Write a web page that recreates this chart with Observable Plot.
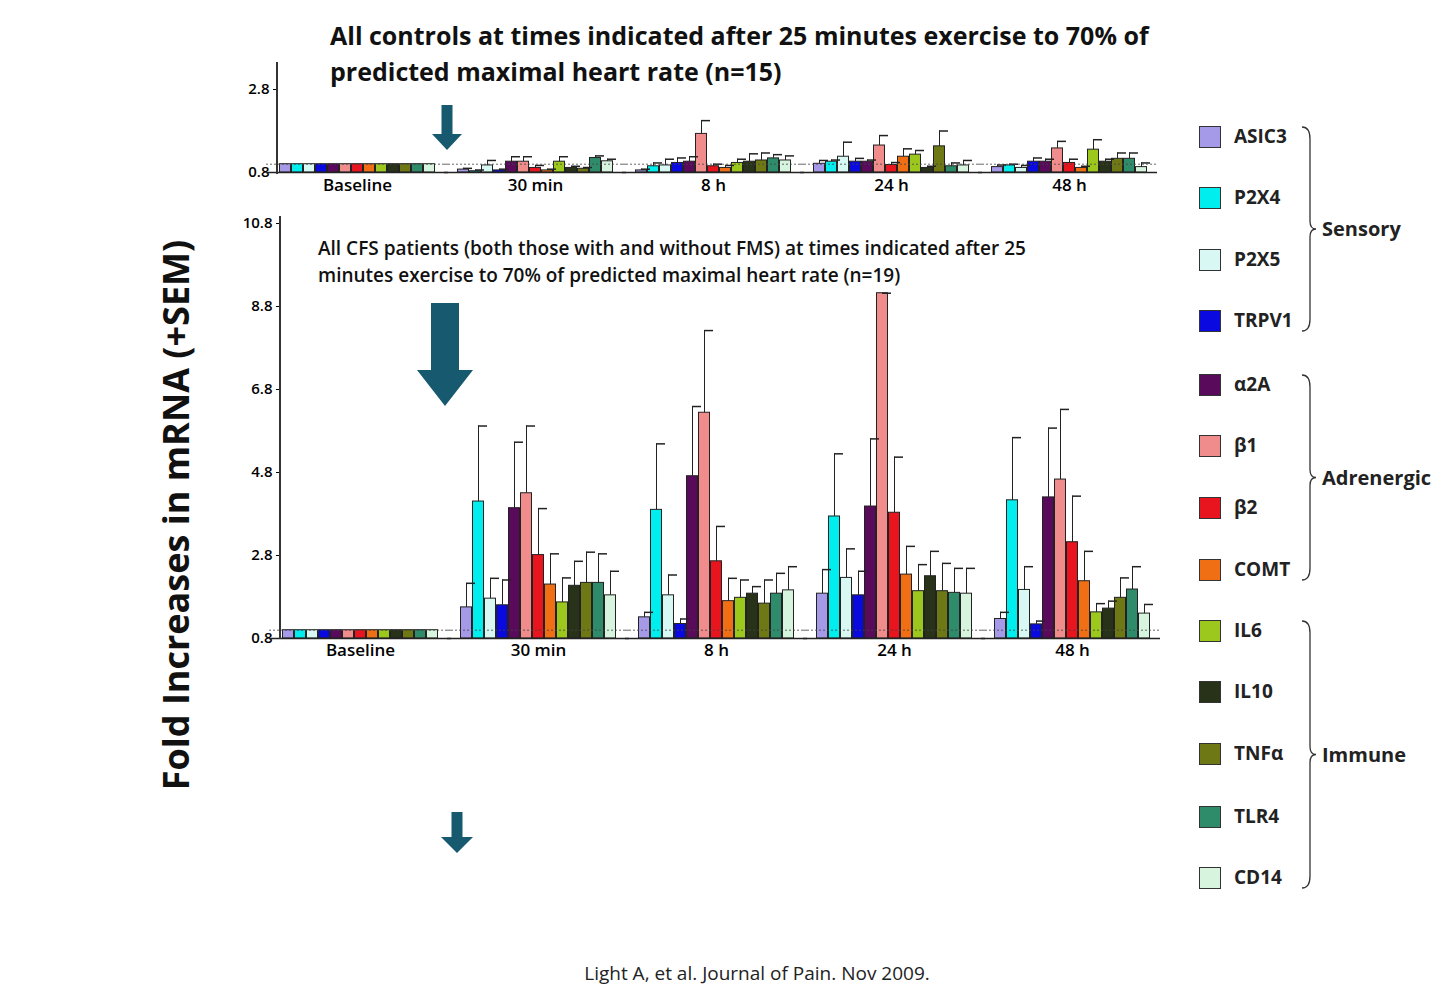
<!DOCTYPE html>
<html><head><meta charset="utf-8">
<script src="https://cdn.jsdelivr.net/npm/d3@7"></script>
<script src="https://cdn.jsdelivr.net/npm/@observablehq/plot@0.6"></script>
<style>
body{margin:0;background:#fff;font-family:"Open Sans",sans-serif;}
#root{position:relative;width:1456px;height:1003px;overflow:hidden;}
.abs{position:absolute;}
.t1{font-weight:700;font-size:25px;line-height:36px;color:#111;}
.t2{font-weight:600;font-size:19px;line-height:27px;color:#111;}
.leg{font-weight:700;font-size:19px;color:#222;}
.sw{width:22px;height:22px;border:1.5px solid #333;box-sizing:border-box;}
</style></head><body><div id="root"></div>
<script>
const groups = ["Baseline","30 min","8 h","24 h","48 h"];
const series = ["ASIC3","P2X4","P2X5","TRPV1","α2A","β1","β2","COMT","IL6","IL10","TNFα","TLR4","CD14"];
const colors = ["#a59ae8","#00eeee","#d8f8f4","#0a0ae0","#5a0a5a","#f08c8c","#e8141e","#f06e14","#9cc81e","#283218","#6e7814","#2e8c6a","#d6f4de"];
const cfsVal = [
 [1,1,1,1,1,1,1,1,1,1,1,1,1],
 [1.55,4.10,1.76,1.60,3.94,4.30,2.81,2.10,1.67,2.07,2.14,2.14,1.84],
 [1.31,3.90,1.84,1.15,4.71,6.24,2.66,1.70,1.78,1.88,1.64,1.88,1.96],
 [1.88,3.74,2.26,1.84,3.98,9.12,3.83,2.34,1.94,2.30,1.94,1.90,1.88],
 [1.27,4.13,1.97,1.14,4.20,4.63,3.12,2.18,1.43,1.52,1.78,1.98,1.40]];
const cfsErr = [
 null,
 [2.13,5.92,2.25,2.21,5.53,5.92,3.93,2.84,2.26,2.66,2.88,2.84,2.42],
 [1.43,5.49,2.33,1.27,6.39,8.22,3.50,2.25,2.21,2.05,2.21,2.37,2.53],
 [2.46,5.25,2.96,2.42,5.61,9.12,5.17,3.02,2.58,2.90,2.61,2.49,2.49],
 [1.43,5.64,2.53,1.22,5.87,6.32,4.23,2.90,1.64,1.70,2.26,2.53,1.62]];
const ctlVal = [
 [1,1,1,1,1,1,1,1,1,1,1,1,1],
 [0.87,0.83,0.97,0.85,1.06,1.06,0.91,0.85,1.06,0.91,0.89,1.15,1.07],
 [0.85,0.95,0.97,1.03,1.06,1.73,0.95,0.91,1.03,1.06,1.09,1.14,1.09],
 [1.01,1.06,1.18,1.06,1.06,1.45,0.98,1.18,1.23,0.91,1.43,0.95,0.97],
 [0.93,0.97,0.91,1.06,1.06,1.38,1.03,0.91,1.35,1.06,1.13,1.13,0.93]];
const ctlErr = [
 null,
 [0.90,0.86,1.09,0.88,1.18,1.18,0.97,0.88,1.18,0.95,0.92,1.20,1.12],
 [0.88,1.03,1.12,1.15,1.18,2.05,1.00,0.97,1.12,1.25,1.27,1.23,1.20],
 [1.09,1.10,1.53,1.14,1.10,1.69,1.04,1.37,1.33,0.95,1.80,1.03,1.09],
 [0.98,1.00,0.97,1.15,1.12,1.55,1.12,0.95,1.59,1.12,1.27,1.27,1.03]];
const groupLegend = [["Sensory",0,3],["Adrenergic",4,7],["Immune",8,12]];

function table(vals, errs){
  const rows=[];
  groups.forEach((g,gi)=>series.forEach((s,si)=>rows.push({group:g,series:s,value:vals[gi][si],err:errs[gi]?errs[gi][si]:null})));
  return rows;
}
const root=document.getElementById("root");
function place(el,l,t){el.classList.add("abs");el.style.left=l+"px";el.style.top=t+"px";root.appendChild(el);return el;}

function chart(data, opts){
  const withErr=data.filter(d=>d.err!=null);
  return Plot.plot({
    width:930,height:opts.height,marginLeft:50,marginRight:8,marginTop:opts.mt,marginBottom:opts.mb,
    style:{background:"transparent",fontFamily:"'Open Sans',sans-serif"},
    fx:{domain:groups,padding:0.11,label:null,axis:null},
    x:{domain:series,padding:0,axis:null},
    y:{domain:opts.domain,label:null,axis:null},
    color:{domain:series,range:colors},
    marks:[
      Plot.axisY({ticks:opts.ticks,tickFormat:d=>d.toFixed(1),fontSize:15,fontWeight:600,tickSize:5,label:null}),
      Plot.barY(data,{fx:"group",x:"series",y1:opts.domain[0],y2:"value",fill:"series",stroke:"#222",strokeWidth:1,insetLeft:0.5,insetRight:0.5}),
      Plot.ruleX(withErr,{fx:"group",x:"series",y1:"value",y2:"err",stroke:"#222",strokeWidth:1}),
      Plot.tickY(withErr,{fx:"group",x:"series",y:"err",stroke:"#222",strokeWidth:1.5,insetLeft:6,insetRight:-3}),
      Plot.ruleY([1],{stroke:"#444",strokeDasharray:"2,2",strokeWidth:0.8,insetLeft:-12,insetRight:-12}),
      Plot.ruleY([opts.domain[0]],{stroke:"#222",strokeWidth:1.5,insetLeft:-12,insetRight:-12}),
      Plot.axisFx({domain:groups,tickSize:0,fontSize:17,fontWeight:600,tickPadding:opts.tp,label:null,anchor:"bottom"})
    ]
  });
}
const ctlChart=chart(table(ctlVal,ctlErr),{height:147,mt:34,mb:30,domain:[0.8,2.8],ticks:[0.8,2.8],tp:6});
place(ctlChart,227,55);
const cfsChart=chart(table(cfsVal,cfsErr),{height:470,mt:18,mb:37,domain:[0.8,10.8],ticks:[0.8,2.8,4.8,6.8,8.8,10.8],tp:5});
place(cfsChart,230,205);
// vertical axis lines
let v=document.createElement("div");v.style.cssText="width:1.5px;height:112px;background:#333";place(v,276,62);
v=document.createElement("div");v.style.cssText="width:1.5px;height:423px;background:#333";place(v,279,216);

// titles
let d=document.createElement("div");d.className="t1";d.innerHTML="All controls at times indicated after 25 minutes exercise to 70% of<br>predicted maximal heart rate (n=15)";place(d,330,17);
d=document.createElement("div");d.className="t2";d.innerHTML="All CFS patients (both those with and without FMS) at times indicated after 25<br>minutes exercise to 70% of predicted maximal heart rate (n=19)";place(d,318,235);
d=document.createElement("div");d.textContent="Fold Increases in mRNA (+SEM)";
d.style.cssText="font-weight:700;font-size:36px;white-space:nowrap;color:#111;transform:translate(-50%,-50%) rotate(-90deg);";place(d,175,515);
d=document.createElement("div");d.textContent="Light A, et al. Journal of Pain. Nov 2009.";
d.style.cssText="font-size:19px;color:#222;white-space:nowrap;transform:translateX(-50%);";place(d,757,960);

// arrows
const ns="http://www.w3.org/2000/svg";
function arrow(cx,y0,y1,w,hw,hh){
  const s=document.createElementNS(ns,"svg");
  s.setAttribute("width",2*hw+4);s.setAttribute("height",y1-y0+2);
  const p=document.createElementNS(ns,"polygon");const c=hw+2,L=y1-y0;
  p.setAttribute("points",`${c-w/2},0 ${c+w/2},0 ${c+w/2},${L-hh} ${c+hw},${L-hh} ${c},${L} ${c-hw},${L-hh} ${c-w/2},${L-hh}`);
  p.setAttribute("fill","#175a70");s.appendChild(p);
  s.style.position="absolute";s.style.left=(cx-c)+"px";s.style.top=y0+"px";root.appendChild(s);
}
arrow(447,105,150,11,15,16);
arrow(445,303,406,28,28,36);
arrow(457,812,853,11,16,16);

// legend
const ys=[137,198,260,321,385,446,508,570,631,692,754,817,878];
series.forEach((s,i)=>{
  const sw=document.createElement("div");sw.className="sw";sw.style.background=colors[i];place(sw,1199,ys[i]-11);
  const t=document.createElement("div");t.className="leg";t.textContent=s;t.style.lineHeight="22px";place(t,1234,ys[i]-12);
});
const bs=document.createElementNS(ns,"svg");
bs.setAttribute("width",40);bs.setAttribute("height",1003);bs.style.cssText="position:absolute;left:1298px;top:0";
groupLegend.forEach(([name,a,b])=>{
  const y0=ys[a]-10,y1=ys[b]+10,m=(y0+y1)/2,x=4;
  const p=document.createElementNS(ns,"path");
  p.setAttribute("d",`M${x},${y0} Q${x+8},${y0} ${x+8},${y0+12} L${x+8},${m-8} Q${x+8},${m} ${x+14},${m} Q${x+8},${m} ${x+8},${m+8} L${x+8},${y1-12} Q${x+8},${y1} ${x},${y1}`);
  p.setAttribute("fill","none");p.setAttribute("stroke","#333");p.setAttribute("stroke-width",1.3);bs.appendChild(p);
  const t=document.createElement("div");t.className="leg";t.style.fontSize="20px";t.textContent=name;place(t,1322,m-14);
});
root.appendChild(bs);
</script></body></html>
